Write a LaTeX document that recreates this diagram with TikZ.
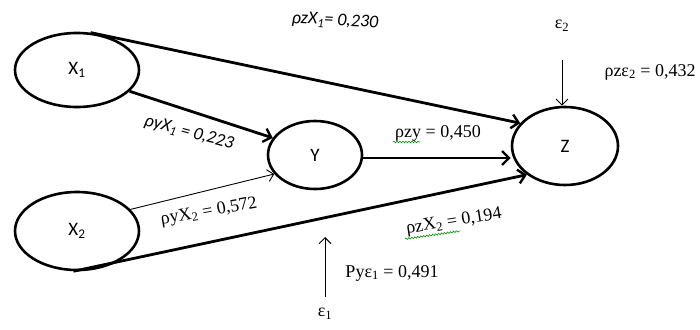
\documentclass[tikz,border=0pt]{standalone}
\usepackage{fontspec}
\setmainfont{Liberation Serif}
\newfontfamily\calib{Carlito}
\usetikzlibrary{arrows.meta,decorations.pathmorphing,shapes.geometric}
\begin{document}
\begin{tikzpicture}[x=1pt,y=-1pt,
  var/.style={draw,line width=2.6pt,ellipse,inner sep=0pt,font=\calib\fontsize{19}{21}\selectfont},
  thickarr/.style={line width=2.8pt,-{Straight Barb[length=7pt,width=14pt,line width=2.4pt]}},
  thinarr/.style={line width=0.9pt,-{Straight Barb[length=6pt,width=12pt,line width=0.9pt]}},
  serlab/.style={font=\fontsize{18}{20}\selectfont,inner sep=0pt},
  itlab/.style={font=\calib\itshape\fontsize{18}{20}\selectfont,inner sep=0pt},
  wavy/.style={draw=green!55!black,line width=0.6pt,decorate,decoration={snake,amplitude=0.8pt,segment length=3pt}}]
\useasboundingbox (0,0) rectangle (700,329);
\node[var,minimum width=124pt,minimum height=74pt] (x1) at (77,70) {X\textsubscript{1}};
\node[var,minimum width=124pt,minimum height=78pt] (x2) at (77,231) {X\textsubscript{2}};
\node[var,minimum width=94pt,minimum height=68pt] (y) at (315,155) {Y};
\node[var,minimum width=106pt,minimum height=78pt] (z) at (565,146) {Z};
\coordinate (e2s) at (562,60);
\coordinate (e1s) at (325,297);
\coordinate (e1e) at (325,237);
% arrows
\draw[thickarr] (x1.70) -- (z.153);
\draw[thickarr] (x1.-22) -- (y.158);
\draw[thinarr] (x2.22) -- (y.-155);
\draw[thickarr] (x2.-95) -- (z.-143);
\draw[thickarr] (y.east |- 0,158) -- (z.west |- 0,158);
\draw[thinarr] (e2s) -- (z.north -| e2s);
\draw[thinarr] (e1s) -- (e1e);
% labels
\node[itlab,rotate=-3] (l1) at (335,21) {ρzX\textsubscript{1}= 0,230};
\node[serlab] (le2) at (562,26) {ε\textsubscript{2}};
\node[serlab] (l2) at (650,72) {ρzε\textsubscript{2} = 0,432};
\node[serlab] (l3) at (438,133) {ρzy = 0,450};
\draw[wavy] (393,142) -- (420,142);
\node[itlab,rotate=-15] (l4) at (189,133) {ρyX\textsubscript{1} = 0,223};
\node[serlab,rotate=10] (l5) at (209,212) {ρyX\textsubscript{2} = 0,572};
\node[serlab,rotate=9] (l6) at (454,222) {ρzX\textsubscript{2} = 0,194};
\draw[wavy] (405,239) -- (460,231);
\node[serlab] (l7) at (392,273) {Pyε\textsubscript{1} = 0,491};
\node[serlab] (le1) at (325,314) {ε\textsubscript{1}};
\end{tikzpicture}
\end{document}
